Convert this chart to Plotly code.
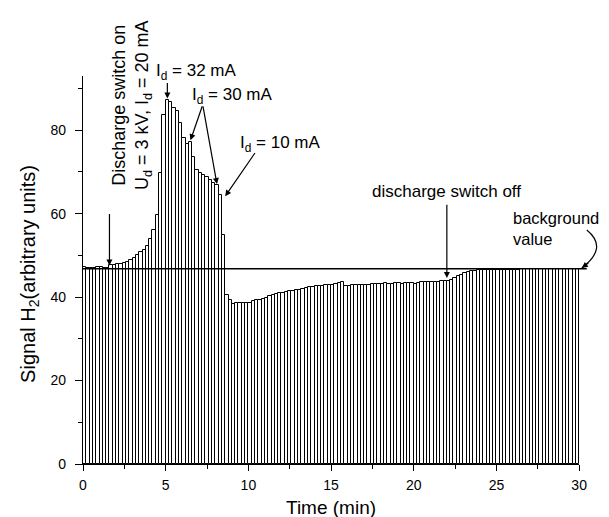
import plotly.graph_objects as go

# ---- data ----
bin_width = 0.2  # min
signal = [
    47.3, 46.9, 46.9, 47.0, 47.2, 47.2, 47.1, 47.0,
    47.8, 47.8, 47.9, 48.0, 48.1, 48.5, 48.9, 49.4, 50.0, 50.8, 51.4, 52.3, 54.0, 56.2, 59.7, 69.7, 83.7,
    87.3, 86.8, 85.3, 84.5, 81.7, 78.1, 76.6, 77.3, 73.5, 70.5, 69.7, 69.3, 68.9, 68.1, 67.3, 66.9, 64.4, 54.9,
    40.4, 39.2, 38.4, 38.5, 38.6, 38.6, 38.7, 38.7, 39.0, 39.2, 39.4, 39.6, 39.9, 40.2, 40.6, 40.8, 41.0, 41.0,
    41.2, 41.4, 41.5, 41.7, 41.8, 42.0, 42.2, 42.4, 42.5, 42.6, 42.7, 42.7, 42.8, 42.9, 43.0, 43.2, 43.3, 43.6,
    42.7, 42.7, 42.8,
    42.9, 43.0, 43.0, 43.0, 43.0, 43.1, 43.1,
    43.2, 43.2, 43.3, 43.2, 43.2, 43.3, 43.3, 43.2, 43.3, 43.3, 43.3, 43.2, 43.3,
    43.6, 43.7, 43.7, 43.7, 43.7, 43.7, 43.8, 43.8,
    43.9, 44.2, 44.6, 45.0, 45.4, 45.8, 46.1, 46.3, 46.3,
    46.4, 46.4, 46.4, 46.5, 46.5, 46.5, 46.5, 46.6, 46.6, 46.6, 46.6, 46.6, 46.6,
    46.7, 46.7, 46.7, 46.7, 46.7, 46.7, 46.7, 46.7,
    46.8, 46.8, 46.8, 46.8, 46.8, 46.8, 46.8, 46.8, 46.8, 46.8,
]
time_centers = [round(bin_width * (i + 0.5), 3) for i in range(len(signal))]
background_value = 46.8
background_x = [0, 30.46]

x_ticks = [0, 5, 10, 15, 20, 25, 30]
y_ticks = [0, 20, 40, 60, 80]

X_MAX = 30
X2_MAX = 31.2
Y_MAX = 93

FONT = "Liberation Sans, Arial, sans-serif"

fig = go.Figure()
fig.add_trace(go.Bar(
    x=time_centers, y=signal, width=bin_width,
    marker=dict(color="white", line=dict(color="black", width=1)),
    xaxis="x", yaxis="y", showlegend=False, hoverinfo="skip",
))
fig.add_trace(go.Scatter(
    x=background_x, y=[background_value, background_value],
    mode="lines", line=dict(color="black", width=1.5),
    xaxis="x2", yaxis="y", showlegend=False, hoverinfo="skip",
))

W, H = 609, 517
ML, MR, MT, MB = 75, 10, 68, 61
dom_end = X_MAX / X2_MAX

axis_common = dict(
    showline=True, linecolor="black", linewidth=1.3,
    ticks="outside", tickcolor="black", tickwidth=1.3,
    showgrid=False, zeroline=False,
    tickfont=dict(family=FONT, size=14, color="black"),
)

fig.update_layout(
    width=W, height=H,
    margin=dict(l=ML, r=MR, t=MT, b=MB),
    paper_bgcolor="white", plot_bgcolor="rgba(0,0,0,0)",
    bargap=0,
    font=dict(family=FONT, color="black"),
    xaxis=dict(
        domain=[0, dom_end], range=[0, X_MAX], tickvals=x_ticks, ticklen=6,
        minor=dict(dtick=2.5, tick0=0, ticklen=4, ticks="outside", tickcolor="black", tickwidth=1.3),
        ticklabelstandoff=2, anchor="y",
        **axis_common,
    ),
    xaxis2=dict(domain=[0, 1], range=[0, X2_MAX], visible=False, anchor="y"),
    yaxis=dict(
        range=[0, Y_MAX], tickvals=y_ticks, ticklen=7,
        minor=dict(dtick=10, tick0=0, ticklen=4, ticks="outside", tickcolor="black", tickwidth=1.3),
        ticklabelstandoff=6, anchor="x",
        **axis_common,
    ),
)

afont = dict(family=FONT, size=17, color="black")
arrow = dict(showarrow=True, arrowhead=2, arrowsize=1, arrowwidth=1.2, arrowcolor="black", text="")

ann = []
# axis titles
ann.append(dict(text="Time (min)", xref="x", x=15, yref="paper", y=0, yshift=-43,
                xanchor="center", yanchor="middle", showarrow=False,
                font=dict(family=FONT, size=19, color="black")))
ann.append(dict(text="Signal H<sub>2</sub>(arbitrary units)", xref="paper", x=0, xshift=-53,
                yref="paper", y=0.49, xanchor="center", yanchor="middle", textangle=-90, showarrow=False,
                font=dict(family=FONT, size=20, color="black")))
# discharge switch on
ann.append(dict(text="Discharge switch on<br>U<sub>d</sub> = 3 kV, I<sub>d</sub> = 20 mA",
                x=2.95, y=86, textangle=-90, showarrow=False, xanchor="center", yanchor="middle",
                font=dict(family=FONT, size=18, color="black"), align="center"))
ann.append(dict(x=1.6, y=47.6, ax=0, ay=-53, **arrow))
# Id = 32 mA
ann.append(dict(text="I<sub>d</sub> = 32 mA", x=4.29, y=92, yshift=8, xanchor="left", yanchor="middle",
                showarrow=False, font=afont))
ann.append(dict(x=5.1, y=87.6, ax=0, ay=-17, **arrow))
# Id = 30 mA
ann.append(dict(text="I<sub>d</sub> = 30 mA", x=6.49, y=88.1, xanchor="left", yanchor="middle",
                showarrow=False, font=afont))
ann.append(dict(x=6.5, y=77.6, axref="x", ayref="y", ax=7.24, ay=86.1, **arrow))
ann.append(dict(x=8.1, y=67.1, axref="x", ayref="y", ax=7.24, ay=86.1, **arrow))
# Id = 10 mA
ann.append(dict(text="I<sub>d</sub> = 10 mA", x=9.4, y=76.6, xanchor="left", yanchor="middle",
                showarrow=False, font=afont))
ann.append(dict(x=8.6, y=64.2, axref="x", ayref="y", ax=10.46, ay=74.9, **arrow))
# discharge switch off
ann.append(dict(text="discharge switch off", x=21.96, y=65.3, xanchor="center", yanchor="middle",
                showarrow=False, font=afont))
ann.append(dict(x=22.0, y=44.6, axref="x", ayref="y", ax=22.0, ay=62.5, **arrow))
# background value
ann.append(dict(text="background<br>value", x=25.85, y=56.5, xanchor="left", yanchor="middle", align="left",
                showarrow=False, font=dict(family=FONT, size=16.5, color="black")))
ann.append(dict(xref="x2", yref="y", x=30.16, y=47.0, ax=8, ay=-6, **arrow))

fig.update_layout(annotations=ann)
fig.add_shape(type="path", xref="x2", yref="y",
              path="M 30.46,56.1 Q 31.79,51.85 30.16,47.0",
              line=dict(color="black", width=1.2))

fig.write_html("out.html")
